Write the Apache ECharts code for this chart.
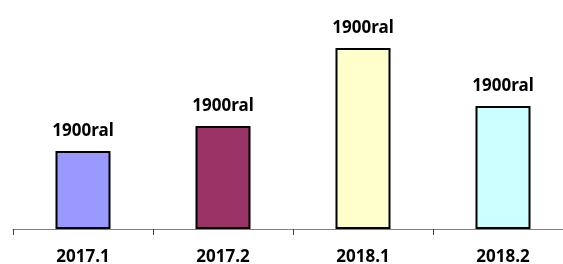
<!DOCTYPE html>
<html>
<head>
<meta charset="utf-8">
<script src="https://cdn.jsdelivr.net/npm/echarts@6/dist/echarts.min.js"></script>
<style>
    html, body { margin: 0; padding: 0; background: #fff; }
    #chart { width: 563px; height: 264px; }
</style>
</head>
<body>
<div id="chart"></div>
<script>
// 期间 / 数值 / 标签
var categories = ['2017.1', '2017.2', '2018.1', '2018.2'];
var values = [78, 103, 181, 123];
var barLabels = ['1900ral', '1900ral', '1900ral', '1900ral'];
var barColors = ['#9999ff', '#993366', '#ffffcc', '#ccffff'];

var seriesData = [];
for (var i = 0; i < values.length; i++) {
    seriesData.push({
        value: values[i],
        itemStyle: { color: barColors[i] },
        label: { formatter: barLabels[i] }
    });
}

var myChart = echarts.init(document.getElementById('chart'));
var option = {
    animation: false,
    grid: { left: 13, width: 560, top: 29, height: 200, outerBoundsMode: 'none', containLabel: false },
    xAxis: {
        type: 'category',
        data: categories,
        axisLine: { lineStyle: { color: '#808080', width: 1 } },
        axisTick: { show: true, length: 6, lineStyle: { color: '#404040' } },
        axisLabel: {
            margin: 20,
            color: '#000',
            fontWeight: 'bold',
            fontSize: 17,
            fontFamily: 'Noto Sans'
        }
    },
    yAxis: {
        type: 'value',
        min: 0,
        max: 200,
        show: false,
        splitLine: { show: false }
    },
    series: [
        {
            type: 'bar',
            barWidth: 55,
            data: seriesData,
            itemStyle: { borderColor: '#000', borderWidth: 2 },
            label: {
                show: true,
                position: 'top',
                distance: 11,
                color: '#000',
                fontWeight: 'bold',
                fontSize: 17,
                fontFamily: 'Noto Sans'
            }
        }
    ]
};
myChart.setOption(option);
</script>
</body>
</html>
